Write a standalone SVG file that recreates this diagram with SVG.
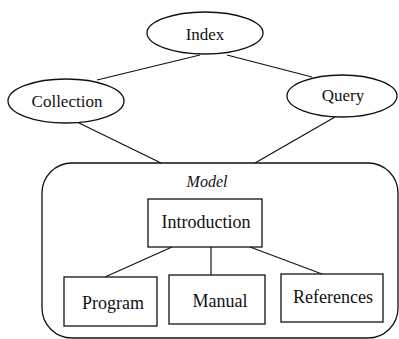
<svg xmlns="http://www.w3.org/2000/svg" width="399" height="339" viewBox="0 0 399 339">
  <style>
    .shape { fill: #ffffff; stroke: #111111; stroke-width: 1.3; }
    .frame { fill: none; stroke: #111111; stroke-width: 1.3; }
    .edge { stroke: #111111; stroke-width: 1.2; fill: none; }
    text { font-family: "Liberation Serif", "Times New Roman", serif; font-size: 18px; fill: #111111; text-anchor: middle; }
    .oval { font-size: 17px; }
    .title { font-style: italic; font-size: 16px; }
  </style>
  <rect width="399" height="339" fill="#ffffff"/>

  <g id="connectors">
    <line class="edge" x1="200" y1="55" x2="97" y2="80"/>
    <line class="edge" x1="227" y1="55" x2="312" y2="77"/>
    <line class="edge" x1="77" y1="122" x2="161" y2="163"/>
    <line class="edge" x1="335" y1="117" x2="255" y2="163"/>
    <line class="edge" x1="172" y1="247" x2="105" y2="277"/>
    <line class="edge" x1="211" y1="247" x2="211" y2="275"/>
    <line class="edge" x1="250" y1="247" x2="322" y2="274"/>
  </g>

  <g id="model">
    <rect class="frame" x="42" y="163" width="356" height="175" rx="30" ry="30"/>
    <text class="title" x="207" y="187">Model</text>
  </g>

  <g id="index">
    <ellipse class="shape" cx="205" cy="33" rx="58" ry="21"/>
    <text class="oval" x="205" y="40">Index</text>
  </g>
  <g id="collection">
    <ellipse class="shape" cx="66" cy="101" rx="58" ry="22"/>
    <text class="oval" x="67" y="107">Collection</text>
  </g>
  <g id="query">
    <ellipse class="shape" cx="342" cy="96" rx="55" ry="21"/>
    <text class="oval" x="343" y="101">Query</text>
  </g>

  <g id="introduction">
    <rect class="shape" x="148" y="199" width="114" height="48"/>
    <text x="206" y="228">Introduction</text>
  </g>
  <g id="program">
    <rect class="shape" x="64" y="277" width="93" height="49"/>
    <text x="113" y="309">Program</text>
  </g>
  <g id="manual">
    <rect class="shape" x="169" y="275" width="96" height="49"/>
    <text x="220" y="307">Manual</text>
  </g>
  <g id="references">
    <rect class="shape" x="281" y="274" width="102" height="48"/>
    <text x="333" y="303">References</text>
  </g>
</svg>
